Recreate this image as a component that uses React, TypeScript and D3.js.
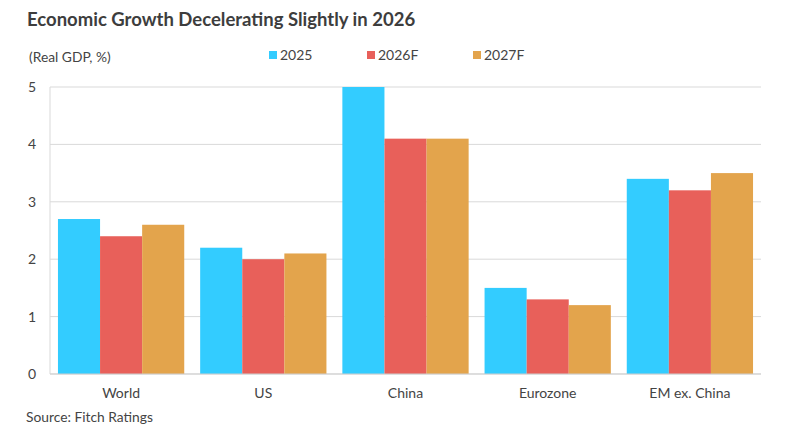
import { useEffect, useRef } from 'react';
import * as d3 from 'd3';

const categories = ['World', 'US', 'China', 'Eurozone', 'EM ex. China'];
const seriesNames = ['2025', '2026F', '2027F'];
const values2025 = [2.7, 2.2, 5.0, 1.5, 3.4];
const values2026 = [2.4, 2.0, 4.1, 1.3, 3.2];
const values2027 = [2.6, 2.1, 4.1, 1.2, 3.5];
const yTicks = [0, 1, 2, 3, 4, 5];
const colors = ['#33ccff', '#e8605a', '#e3a44c'];

const App = () => {
  const ref = useRef<SVGSVGElement | null>(null);

  useEffect(() => {
    if (!ref.current) return;
    const svg = d3.select(ref.current);
    svg.selectAll('*').remove();

    const width = 790;
    const margin = { top: 87, right: 29, bottom: 61, left: 50 };
    const innerWidth = width - margin.left - margin.right;
    const innerHeight = 435 - margin.top - margin.bottom;
    const font = 'Lato, "Open Sans", sans-serif';
    const textColor = '#444';

    const series = [values2025, values2026, values2027];

    const x0 = d3.scaleBand().domain(categories).range([0, innerWidth]).paddingInner(0.112).paddingOuter(0.056);
    const x1 = d3.scaleBand().domain(seriesNames).range([0, x0.bandwidth()]);
    const y = d3.scaleLinear().domain([0, 5]).range([innerHeight, 0]);

    svg.append('text')
      .attr('x', 27).attr('y', 26)
      .attr('font-family', font).attr('font-weight', 700).attr('font-size', 18.5)
      .attr('fill', '#3d3d3d')
      .text('Economic Growth Decelerating Slightly in 2026');

    svg.append('text')
      .attr('x', 29).attr('y', 62)
      .attr('font-family', font).attr('font-size', 13.8)
      .attr('fill', textColor)
      .text('(Real GDP, %)');

    const legendX = [269, 367, 473];
    seriesNames.forEach((name, i) => {
      const g = svg.append('g').attr('transform', `translate(${legendX[i]}, 55)`);
      g.append('rect').attr('x', 0).attr('y', -4).attr('width', 8).attr('height', 8).attr('fill', colors[i]);
      g.append('text')
        .attr('x', 11).attr('y', 5)
        .attr('font-family', font).attr('font-size', 14)
        .attr('fill', textColor)
        .text(name);
    });

    const g = svg.append('g').attr('transform', `translate(${margin.left}, ${margin.top})`);

    g.selectAll('line.grid')
      .data(yTicks)
      .join('line')
      .attr('class', 'grid')
      .attr('x1', 0).attr('x2', innerWidth)
      .attr('y1', (d) => y(d)).attr('y2', (d) => y(d))
      .attr('stroke', '#d9d9d9').attr('stroke-width', 1);

    g.append('line')
      .attr('x1', 0).attr('x2', 0).attr('y1', 0).attr('y2', innerHeight)
      .attr('stroke', '#d9d9d9');

    g.selectAll('text.ytick')
      .data(yTicks)
      .join('text')
      .attr('class', 'ytick')
      .attr('x', -14).attr('y', (d) => y(d) + 5)
      .attr('text-anchor', 'end')
      .attr('font-family', font).attr('font-size', 14)
      .attr('fill', textColor)
      .text((d) => d);

    categories.forEach((cat, ci) => {
      series.forEach((vals, si) => {
        g.append('rect')
          .attr('x', (x0(cat) || 0) + (x1(seriesNames[si]) || 0))
          .attr('y', y(vals[ci]))
          .attr('width', x1.bandwidth())
          .attr('height', innerHeight - y(vals[ci]))
          .attr('fill', colors[si]);
      });
      g.append('text')
        .attr('x', (x0(cat) || 0) + x0.bandwidth() / 2)
        .attr('y', innerHeight + 24)
        .attr('text-anchor', 'middle')
        .attr('font-family', font).attr('font-size', 14)
        .attr('fill', textColor)
        .text(cat);
    });

    g.append('line')
      .attr('x1', 0).attr('x2', innerWidth).attr('y1', innerHeight).attr('y2', innerHeight)
      .attr('stroke', '#cfcfcf');

    svg.append('text')
      .attr('x', 26).attr('y', 422)
      .attr('font-family', font).attr('font-size', 13.8)
      .attr('fill', textColor)
      .text('Source: Fitch Ratings');
  }, []);

  return (
    <svg ref={ref} width={790} height={435} style={{ display: 'block', margin: '-8px', background: '#fff' }} />
  );
};

export default App;
